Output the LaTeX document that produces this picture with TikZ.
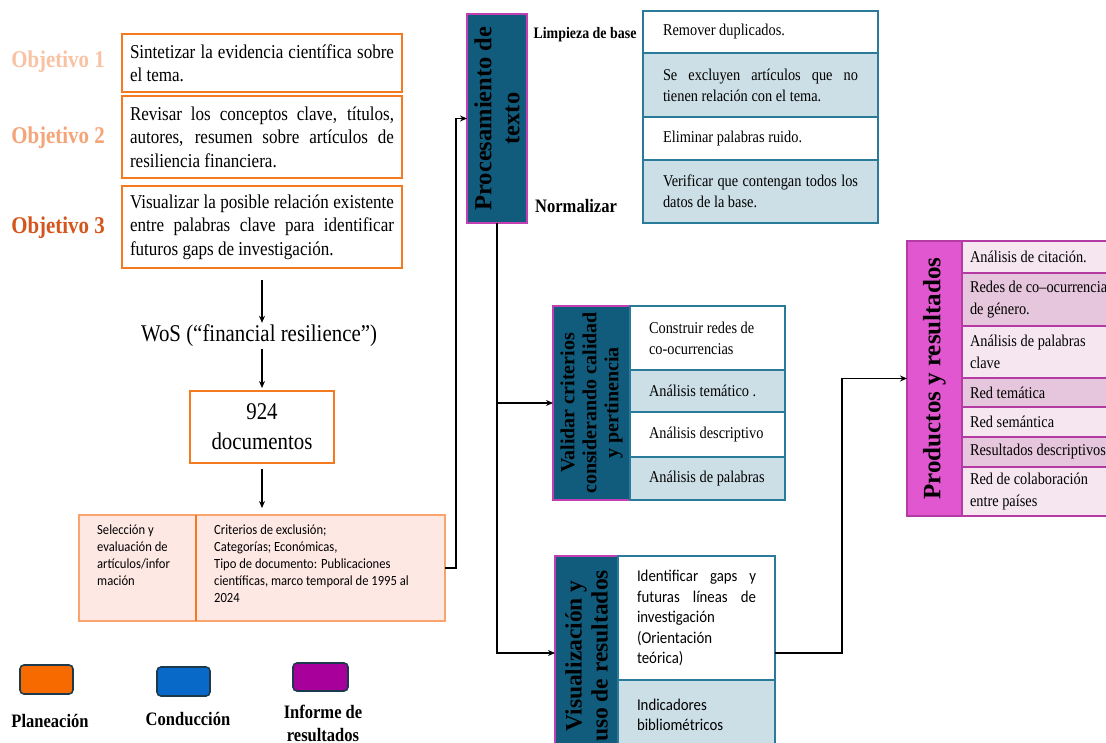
\documentclass[tikz,border=0pt]{standalone}
\usepackage{fontspec}
\setmainfont[FakeStretch=0.87]{Liberation Serif}
\newfontfamily\rotf{Liberation Serif}
\newfontfamily\sansf[FakeStretch=0.9]{Carlito}
\usetikzlibrary{arrows.meta}
\definecolor{orB}{HTML}{F47A1F}
\definecolor{ob1c}{HTML}{F8C2A3}
\definecolor{ob2c}{HTML}{F4A476}
\definecolor{ob3c}{HTML}{D4561C}
\definecolor{pinkF}{HTML}{FDE8E4}
\definecolor{pinkB}{HTML}{F8A46C}
\definecolor{tealF}{HTML}{115C7D}
\definecolor{magB}{HTML}{C23FB3}
\definecolor{blueF}{HTML}{CCDEE6}
\definecolor{tblB}{HTML}{2A7A9A}
\definecolor{prodF}{HTML}{E157CF}
\definecolor{prodB}{HTML}{B43AA4}
\definecolor{prL}{HTML}{F5E6F0}
\definecolor{prD}{HTML}{E6C6DC}
\definecolor{lgB}{HTML}{1D3A4C}
\definecolor{lgO}{HTML}{F76A00}
\definecolor{lgBl}{HTML}{0869C9}
\definecolor{lgP}{HTML}{A8009B}
\begin{document}
\begin{tikzpicture}[x=1pt,y=-1pt,
  box/.style={draw, outer sep=0pt, inner ysep=0pt, anchor=north west},
  obj/.style={box, draw=orB, line width=1.6pt, fill=white, text width=264pt, inner xsep=8pt, align=justify, font=\fontsize{19.6}{23.5}\selectfont},
  objlbl/.style={font=\fontsize{24}{26}\selectfont\bfseries, inner sep=0pt},
  arr/.style={-{Stealth[length=7pt,width=6pt]}, line width=1.3pt, black},
  seltext/.style={anchor=north west, inner sep=0pt, align=justify, text width=230pt, font=\sansf\fontsize{14}{16.8}\selectfont},
  stagebox/.style={box, draw=magB, line width=1.1pt, fill=tealF},
  rottext/.style={rotate=90, inner sep=0pt, align=center, text=black},
  trow/.style={box, draw=tblB, line width=1.2pt, text width=195pt, inner xsep=20pt, align=justify, font=\fontsize{16.5}{21}\selectfont},
  vrow/.style={box, draw=tblB, line width=1.2pt, text width=117pt, inner xsep=19pt, align=justify, font=\fontsize{16.5}{21}\selectfont},
  srow/.style={box, draw=tblB, line width=1.2pt, text width=119pt, inner xsep=19pt, align=justify, font=\sansf\fontsize{16.5}{20.5}\selectfont},
  prow/.style={box, draw=prodB, line width=1.2pt, text width=150pt, inner xsep=8pt, align=justify, font=\fontsize{16.5}{21.5}\selectfont},
  lgd/.style={box, draw=lgB, line width=1.6pt, rounded corners=4pt, minimum width=53pt, minimum height=29pt},
  lgtext/.style={inner sep=0pt, align=center, font=\fontsize{19}{23}\selectfont\bfseries}
]
\clip (0,0) rectangle (1106,743);
\fill[white] (0,0) rectangle (1106,743);

% objectives
\node[obj, minimum height=58pt] (ob1) at (122,34) {Sintetizar la evidencia científica sobre\linebreak el tema.};
\node[obj, minimum height=82pt] (ob2) at (122,96) {Revisar los conceptos clave, títulos,\linebreak autores, resumen sobre artículos de\linebreak resiliencia financiera.};
\node[obj, minimum height=82pt] (ob3) at (122,186) {Visualizar la posible relación existente\linebreak entre palabras clave para identificar\linebreak futuros gaps de investigación.};
\node[objlbl, text=ob1c] (l1) at (58,62) {Objetivo 1};
\node[objlbl, text=ob2c] (l2) at (58,138) {Objetivo 2};
\node[objlbl, text=ob3c] (l3) at (58,228) {Objetivo 3};

% WoS and documents
\node[inner sep=2pt, font=\fontsize{24}{26}\selectfont] (wos) at (259,336) {WoS (“financial resilience”)};
\node[box, draw=orB, line width=1.6pt, minimum width=144pt, minimum height=72pt, align=center, font=\fontsize{24}{30}\selectfont] (doc) at (190,391) {924\\documentos};

\draw[arr, shorten <=12pt] (ob3.south) -- (ob3.south |- wos.north);
\draw[arr, shorten >=3pt] (wos.south -| doc.north) -- (doc.north);
\draw[arr, shorten <=6pt, shorten >=7pt] (doc.south) -- (doc.south |- 0,515);

% selection box
\node[box, draw=pinkB, line width=1.2pt, fill=pinkF, minimum width=117pt, minimum height=106pt] (selL) at (79,515) {};
\node[box, draw=pinkB, line width=1.2pt, fill=pinkF, minimum width=249pt, minimum height=106pt] (selR) at (196,515) {};
\draw[orB, line width=1.2pt] (selL.north east) -- (selL.south east);
\node[seltext, text width=90pt] (selLt) at (97,525) {Selección y\\evaluación de\\artículos/infor\\mación};
\node[seltext] (selRt) at (214,525) {Criterios de exclusión;\\Categorías; Económicas,\\Tipo de documento: Publicaciones\\científicas, marco temporal de 1995 al\\2024};

% processing
\node[stagebox, minimum width=60pt, minimum height=209pt] (proc) at (467,14) {};
\node[rottext, font=\rotf\bfseries\fontsize{24.5}{28}\selectfont] (procT) at (proc.center) {Procesamiento de\\texto};
\node[inner sep=0pt, font=\fontsize{16}{18}\selectfont\bfseries] (limp) at (585,35) {Limpieza de base};
\node[inner sep=0pt, anchor=west, font=\fontsize{19}{21}\selectfont\bfseries] (norm) at (535,206) {Normalizar};

\node[trow, fill=white, minimum height=42pt] (pr1) at (643,11) {Remover duplicados.};
\node[trow, fill=blueF, minimum height=64pt] (pr2) at (643,53) {Se excluyen artículos que no\linebreak tienen relación con el tema.};
\node[trow, fill=white, minimum height=43pt] (pr3) at (643,117) {Eliminar palabras ruido.};
\node[trow, fill=blueF, minimum height=63pt] (pr4) at (643,160) {Verificar que contengan todos los\linebreak datos de la base.};

% validation
\node[stagebox, minimum width=77pt, minimum height=194pt] (val) at (553,306) {};
\node[rottext, font=\rotf\bfseries\fontsize{20}{22}\selectfont] (valT) at (val.center) {Validar criterios\\considerando calidad\\y pertinencia};
\node[vrow, fill=white, minimum height=64pt] (vr1) at (630,306) {Construir redes de\\co-ocurrencias};
\node[vrow, fill=blueF, minimum height=42pt] (vr2) at (630,370) {\mbox{Análisis temático .}};
\node[vrow, fill=white, minimum height=45pt] (vr3) at (630,412) {\mbox{Análisis descriptivo}};
\node[vrow, fill=blueF, minimum height=43pt] (vr4) at (630,457) {\mbox{Análisis de palabras}};

% visualization
\node[stagebox, minimum width=63pt, minimum height=194pt] (vis) at (555,556) {};
\node[rottext, font=\rotf\bfseries\fontsize{23.5}{26}\selectfont] (visT) at ([yshift=-3pt]vis.center) {Visualización y\\uso de resultados};
\node[srow, fill=white, minimum height=124pt] (sr1) at (618,556) {Identificar gaps y\linebreak futuras líneas de\linebreak investigación\\(Orientación\\teórica)};
\node[srow, fill=blueF, minimum height=70pt] (sr2) at (618,680) {Indicadores\\bibliométricos};

% products
\node[box, draw=prodB, line width=1.2pt, fill=prodF, minimum width=55pt, minimum height=275pt] (prod) at (907,241) {};
\node[rottext, font=\rotf\bfseries\fontsize{25}{27}\selectfont] (prodT) at (prod.center) {Productos y resultados};
\node[prow, fill=prL, minimum height=32pt] (p1) at (962,241) {Análisis de citación.};
\node[prow, fill=prD, minimum height=53pt] (p2) at (962,273) {Redes de co–ocurrencia\\de género.};
\node[prow, fill=prL, minimum height=52pt] (p3) at (962,326) {Análisis de palabras\\clave};
\node[prow, fill=prD, minimum height=29pt] (p4) at (962,378) {Red temática};
\node[prow, fill=prL, minimum height=30pt] (p5) at (962,407) {Red semántica};
\node[prow, fill=prD, minimum height=30pt] (p6) at (962,437) {Resultados descriptivos};
\node[prow, fill=prL, minimum height=49pt] (p7) at (962,467) {Red de colaboración\\entre países};

% connectors
\draw[arr] (selR.east) -- ++(11,0) |- (proc.west);
\draw[arr] (proc.south) |- (vis.west);
\draw[arr] (proc.south |- val.west) -- (val.west);
\draw[arr] (sr1.east |- vis.west) -- ++(67,0) |- (prod.west);

% legend
\node[lgd, fill=lgO] (lg1) at (20,665) {};
\node[lgd, fill=lgBl] (lg2) at (157,667) {};
\node[lgd, fill=lgP, minimum width=55pt, minimum height=28pt] (lg3) at (293,663) {};
\node[lgtext] (lt1) at (50,721) {Planeación};
\node[lgtext] (lt2) at (188,719) {Conducción};
\node[lgtext] (lt3) at (323,723) {Informe de\\resultados};
\end{tikzpicture}
\end{document}
